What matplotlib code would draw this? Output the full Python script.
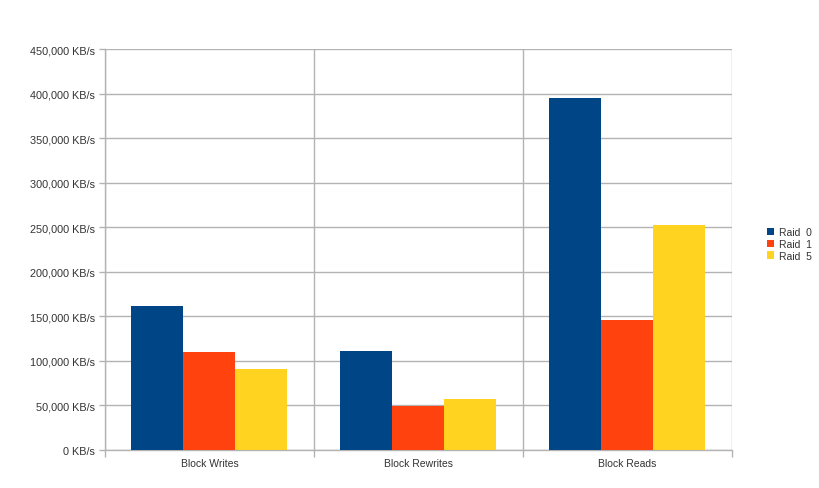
import matplotlib
matplotlib.use("Agg")
import matplotlib.pyplot as plt
import numpy as np
from matplotlib.ticker import FuncFormatter, MultipleLocator

categories = ["Block Writes", "Block Rewrites", "Block Reads"]
series_names = ["Raid  0", "Raid  1", "Raid  5"]
raid0 = [161500, 110800, 395000]
raid1 = [109600, 49500, 145900]
raid5 = [91000, 56700, 252600]
colors = ["#004586", "#ff420e", "#ffd320"]

plt.rcParams['font.family'] = ['Liberation Sans', 'DejaVu Sans']

fig = plt.figure(figsize=(8.2, 4.89), dpi=100)
ax = fig.add_axes([105/820, 1 - 451/489, 627/820, 401/489])

x = np.arange(len(categories))
w = 52/209
for i, (vals, c, name) in enumerate(zip([raid0, raid1, raid5], colors, series_names)):
    ax.bar(x + (i - 1) * w, vals, width=w, color=c, label=name, zorder=3,
           edgecolor='none')

ax.set_xlim(-0.5, len(categories) - 0.5)
ax.set_ylim(0, 450000)
ax.yaxis.set_major_locator(MultipleLocator(50000))
ax.yaxis.set_major_formatter(FuncFormatter(lambda v, p: f"{int(v):,} KB/s"))
grid_c = "#b3b3b3"
ax.grid(axis='y', color=grid_c, linewidth=1, zorder=0)
for b in np.arange(-0.5, len(categories) + 0.5, 1):
    ax.axvline(b, color=grid_c, linewidth=1, zorder=0)
ax.set_xticks(x)
ax.set_xticklabels(categories)
ax.set_xticks(np.arange(-0.5, len(categories) + 0.5, 1), minor=True)
ax.tick_params(axis='x', which='major', length=0, pad=6, labelsize=7.5, colors='#333333')
ax.tick_params(axis='x', which='minor', length=5, color=grid_c, width=1)
ax.tick_params(axis='y', length=4, color=grid_c, width=1, labelsize=7.8, labelcolor='#333333', pad=3)
for s in ['top', 'right']:
    ax.spines[s].set_visible(False)
for s in ['left', 'bottom']:
    ax.spines[s].set_color(grid_c)
    ax.spines[s].set_linewidth(1)

leg = ax.legend(loc='center left', bbox_to_anchor=(767/820, 1 - 245/489),
                bbox_transform=fig.transFigure, frameon=False, fontsize=7.5,
                handlelength=0.7, handleheight=0.7, handletextpad=0.5,
                labelspacing=0.15, borderaxespad=0, borderpad=0)
for t in leg.get_texts():
    t.set_color('#333333')

fig.savefig("out.png", dpi=100)
